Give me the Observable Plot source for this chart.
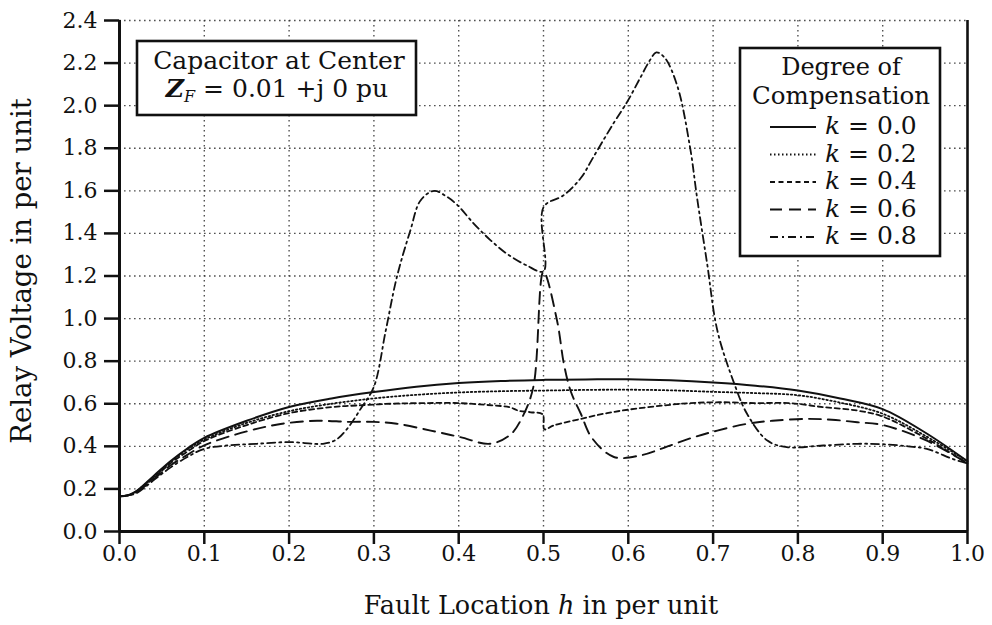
<!DOCTYPE html>
<html><head><meta charset="utf-8">
<script src="https://cdn.jsdelivr.net/npm/d3@7"></script>
<script src="https://cdn.jsdelivr.net/npm/@observablehq/plot@0.6"></script>
<style>
body{margin:0;background:#fff}
svg{font-family:"DejaVu Serif",serif}
</style>
</head><body><div id="chart"></div>
<script>
// ---- data ----
const xTicks = [0,0.1,0.2,0.3,0.4,0.5,0.6,0.7,0.8,0.9,1.0];
const yTicks = [0,0.2,0.4,0.6,0.8,1.0,1.2,1.4,1.6,1.8,2.0,2.2,2.4];
const kLabels = ["0.0","0.2","0.4","0.6","0.8"];

const h_k00 = [0,0.01,0.02,0.04,0.06,0.08,0.1,0.15,0.2,0.25,0.3,0.35,0.4,0.45,0.5,0.55,0.6,0.65,0.7,0.75,0.8,0.85,0.9,0.95,1.0];
const v_k00 = [0.165,0.17,0.19,0.26,0.33,0.39,0.44,0.52,0.585,0.625,0.655,0.68,0.697,0.707,0.712,0.714,0.715,0.71,0.70,0.685,0.662,0.625,0.575,0.465,0.33];

const h_k02 = [0,0.01,0.02,0.04,0.06,0.08,0.1,0.15,0.2,0.25,0.3,0.35,0.4,0.45,0.5,0.55,0.6,0.65,0.7,0.75,0.8,0.85,0.9,0.95,1.0];
const v_k02 = [0.165,0.17,0.19,0.255,0.325,0.385,0.432,0.51,0.565,0.60,0.625,0.642,0.653,0.659,0.662,0.665,0.666,0.663,0.656,0.65,0.64,0.605,0.553,0.45,0.33];

const h_k04 = [0,0.01,0.02,0.04,0.06,0.08,0.1,0.15,0.2,0.25,0.28,0.32,0.36,0.40,0.44,0.46,0.47,0.485,0.499,0.501,0.512,0.544,0.575,0.607,0.642,0.673,0.71,0.75,0.79,0.83,0.87,0.9,0.95,1.0];
const v_k04 = [0.165,0.17,0.185,0.25,0.32,0.375,0.425,0.50,0.556,0.584,0.592,0.60,0.603,0.603,0.592,0.584,0.568,0.56,0.55,0.48,0.498,0.529,0.556,0.576,0.592,0.603,0.607,0.603,0.603,0.584,0.568,0.54,0.44,0.32];

const h_k06 = [0,0.01,0.02,0.04,0.06,0.08,0.1,0.15,0.19,0.233,0.27,0.30,0.327,0.367,0.402,0.437,0.461,0.475,0.488,0.5,0.516,0.524,0.532,0.544,0.557,0.583,0.614,0.642,0.675,0.705,0.74,0.77,0.81,0.84,0.87,0.9,0.95,1.0];
const v_k06 = [0.165,0.17,0.185,0.245,0.31,0.36,0.405,0.47,0.505,0.52,0.515,0.515,0.506,0.474,0.443,0.412,0.455,0.537,0.678,1.22,0.99,0.788,0.66,0.553,0.44,0.35,0.357,0.393,0.44,0.474,0.506,0.52,0.529,0.525,0.513,0.50,0.43,0.32];

const h_k08 = [0,0.01,0.02,0.04,0.06,0.08,0.1,0.13,0.162,0.2,0.24,0.255,0.268,0.285,0.30,0.314,0.327,0.343,0.355,0.371,0.385,0.398,0.418,0.437,0.457,0.48,0.5,0.5,0.524,0.544,0.559,0.583,0.599,0.614,0.625,0.633,0.643,0.658,0.673,0.681,0.693,0.705,0.725,0.74,0.764,0.787,0.83,0.87,0.9,0.93,0.952,0.983,1.0];
const v_k08 = [0.165,0.17,0.18,0.24,0.30,0.35,0.388,0.405,0.412,0.42,0.412,0.43,0.48,0.58,0.68,0.944,1.194,1.414,1.555,1.60,1.575,1.535,1.445,1.37,1.304,1.25,1.222,1.523,1.58,1.66,1.76,1.92,2.02,2.13,2.21,2.25,2.225,2.09,1.80,1.57,1.257,0.944,0.694,0.553,0.427,0.396,0.404,0.412,0.41,0.40,0.388,0.34,0.32];

const series = [
  {k:"0.0", h:h_k00, v:v_k00, dash:null,        w:2.0},
  {k:"0.2", h:h_k02, v:v_k02, dash:"1.5,2.5",   w:1.8},
  {k:"0.4", h:h_k04, v:v_k04, dash:"5,3.5",     w:1.8},
  {k:"0.6", h:h_k06, v:v_k06, dash:"12,7",      w:1.9},
  {k:"0.8", h:h_k08, v:v_k08, dash:"8,4,2,4",   w:1.8}
];
const rows = series.map(s => s.h.map((h,i)=>({k:s.k, h, v:s.v[i]})));

const FONT = "DejaVu Serif";
const fmt = d => d.toFixed(1);

const marks = [
  Plot.gridX(xTicks.filter(d=>d>0 && d<1), {stroke:"#333", strokeOpacity:0.85, strokeDasharray:"1.6,3.4", strokeWidth:1.4}),
  Plot.gridY(yTicks.filter(d=>d>0), {stroke:"#333", strokeOpacity:0.85, strokeDasharray:"1.6,3.4", strokeWidth:1.4}),
  ...series.map((s,i)=>Plot.line(rows[i], {x:"h", y:"v", stroke:"#111", strokeWidth:s.w, strokeDasharray:s.dash, curve:"catmull-rom"})),
  Plot.axisY({ticks:yTicks, tickFormat:fmt, tickSize:15, tickPadding:7, fontSize:22, label:null, strokeWidth:2.5, color:"#111"}),
  Plot.axisX({ticks:xTicks, tickFormat:fmt, tickSize:13, tickPadding:1, fontSize:22, label:null, strokeWidth:2.5, color:"#111"}),
  Plot.ruleX([0], {stroke:"#111", strokeWidth:3}),
  Plot.ruleX([1], {stroke:"#111", strokeWidth:2.6}),
  Plot.ruleY([0], {stroke:"#111", strokeWidth:3})
];

const svg = Plot.plot({
  width:992, height:625,
  marginLeft:119, marginRight:25, marginTop:20, marginBottom:94,
  x:{domain:[0,1]},
  y:{domain:[0,2.4]},
  style:{fontFamily:FONT, background:"#fff", color:"#111"},
  marks
});
document.getElementById("chart").appendChild(svg);

// ---- titles, annotation box and legend (real text) ----
const g = d3.select(svg).append("g").attr("font-family", FONT).attr("fill","#111").attr("text-anchor","start");

// x title
const xt = g.append("text").attr("x", 541).attr("y", 614).attr("text-anchor","middle").attr("font-size", 25.5);
xt.append("tspan").text("Fault Location ");
xt.append("tspan").attr("font-style","italic").text("h");
xt.append("tspan").text(" in per unit");

// y title
g.append("text").attr("transform","translate(31,271) rotate(-90)").attr("text-anchor","middle").attr("font-size",27.5).text("Relay Voltage in per unit");

// annotation box
g.append("rect").attr("x",137).attr("y",41).attr("width",279).attr("height",74).attr("fill","#fff").attr("stroke","#111").attr("stroke-width",2.6);
g.append("text").attr("x",279).attr("y",69).attr("text-anchor","middle").attr("font-size",25).text("Capacitor at Center");
const zt = g.append("text").attr("x",277).attr("y",97).attr("text-anchor","middle").attr("font-size",25);
zt.append("tspan").attr("font-weight","bold").attr("font-style","italic").text("Z");
zt.append("tspan").attr("font-style","italic").attr("font-size",16).attr("dy",5).text("F");
zt.append("tspan").attr("dy",-5).text(" = 0.01 +j 0 pu");

// legend
g.append("rect").attr("x",740).attr("y",48).attr("width",200).attr("height",208).attr("fill","#fff").attr("stroke","#111").attr("stroke-width",2.6);
g.append("text").attr("x",841).attr("y",75).attr("text-anchor","middle").attr("font-size",24).text("Degree of");
g.append("text").attr("x",841).attr("y",104).attr("text-anchor","middle").attr("font-size",24.5).text("Compensation");
series.forEach((s,i)=>{
  const cy = 127 + i*27.5;
  const ln = g.append("line").attr("x1",770).attr("x2",816).attr("y1",cy).attr("y2",cy).attr("stroke","#111").attr("stroke-width",s.w);
  if (s.dash) ln.attr("stroke-dasharray", s.dash);
  const t = g.append("text").attr("x",825).attr("y",cy+7).attr("font-size",25).attr("text-anchor","start");
  t.append("tspan").attr("font-style","italic").text("k");
  t.append("tspan").text(" = " + kLabels[i]);
});
</script>
</body></html>
